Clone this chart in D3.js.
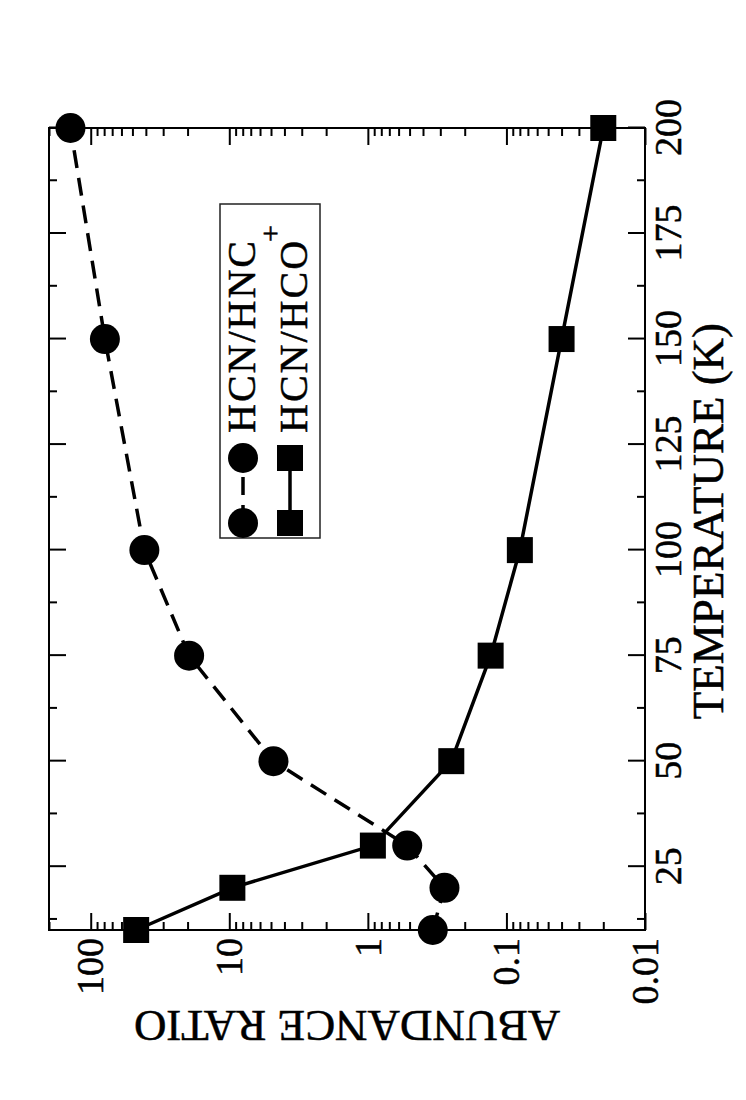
<!DOCTYPE html>
<html>
<head>
<meta charset="utf-8">
<script src="https://cdn.jsdelivr.net/npm/d3@7"></script>
<style>
  body { margin: 0; background: #fff; }
  text { font-family: "Liberation Serif", "Times New Roman", serif; fill: #000; stroke: #000; stroke-width: 0.5px; }
</style>
</head>
<body>
<div id="chart"></div>
<script>
// data
var temps = [10, 20, 30, 50, 75, 100, 150, 200];
var hcnHnc = [0.34, 0.28, 0.52, 4.8, 19.5, 41, 79, 140];
var hcnHco = [47, 9.5, 0.92, 0.25, 0.13, 0.08, 0.04, 0.02];
var tempTicks = [25, 50, 75, 100, 125, 150, 175, 200];
var tempMinor = [12.5, 37.5, 62.5, 87.5, 112.5, 137.5, 162.5, 187.5];
var ratioTicks = [100, 10, 1, 0.1, 0.01];
var ratioLabels = ["100", "10", "1", "0.1", "0.01"];
var seriesNames = ["HCN/HNC", "HCN/HCO"];

var svgW = 746, svgH = 1100;
// chart is drawn normally then turned a quarter turn counter-clockwise
var W = 802, H = 596;

var svg = d3.select("#chart").append("svg")
    .attr("width", svgW)
    .attr("height", svgH);

var g = svg.append("g")
    .attr("transform", "translate(49,930) rotate(-90)");

var x = d3.scaleLinear().domain([10, 200]).range([0, W]);
var y = d3.scaleLog().domain([0.01, 200]).range([H, 0]);

// minor log ticks 2..9 per decade
var logMinor = [];
[0.01, 0.1, 1, 10, 100].forEach(function(d) {
  for (var k = 2; k <= 9; k++) {
    var v = +(d * k).toPrecision(3);
    if (v <= 200) logMinor.push(v);
  }
});

function styleAxis(sel) {
  sel.select(".domain").remove();
  sel.selectAll("line").attr("stroke", "#000").attr("stroke-width", 2);
  sel.selectAll("text").style("font-family", "'Liberation Serif', 'Times New Roman', serif")
    .attr("font-size", 38).attr("fill", "#000");
}

// bottom (temperature) axis with labels
g.append("g").attr("transform", "translate(0," + H + ")")
  .call(d3.axisBottom(x).tickValues(tempTicks).tickSize(-17).tickPadding(9)
    .tickFormat(d3.format("d")))
  .call(styleAxis);
g.append("g").attr("transform", "translate(0," + H + ")")
  .call(d3.axisBottom(x).tickValues(tempMinor).tickSize(-8).tickFormat(""))
  .call(styleAxis);
// top
g.append("g")
  .call(d3.axisTop(x).tickValues(tempTicks).tickSize(-17).tickFormat(""))
  .call(styleAxis);
g.append("g")
  .call(d3.axisTop(x).tickValues(tempMinor).tickSize(-8).tickFormat(""))
  .call(styleAxis);

// left (ratio) axis with labels
g.append("g")
  .call(d3.axisLeft(y).tickValues(ratioTicks).tickSize(-17).tickPadding(8)
    .tickFormat(function(d, i) { return ratioLabels[i]; }))
  .call(styleAxis);
g.append("g")
  .call(d3.axisLeft(y).tickValues(logMinor).tickSize(-8).tickFormat(""))
  .call(styleAxis);
// right
g.append("g").attr("transform", "translate(" + W + ",0)")
  .call(d3.axisRight(y).tickValues(ratioTicks).tickSize(-17).tickFormat(""))
  .call(styleAxis);
g.append("g").attr("transform", "translate(" + W + ",0)")
  .call(d3.axisRight(y).tickValues(logMinor).tickSize(-8).tickFormat(""))
  .call(styleAxis);

// frame
g.append("rect")
  .attr("width", W).attr("height", H)
  .attr("fill", "none").attr("stroke", "#000").attr("stroke-width", 2);

// axis titles
g.append("text")
  .attr("x", W / 2 + 8).attr("y", H + 78)
  .attr("text-anchor", "middle")
  .attr("font-size", 45)
  .text("TEMPERATURE (K)");

g.append("text")
  .attr("transform", "translate(-81," + (H / 2) + ") rotate(-90)")
  .attr("text-anchor", "middle")
  .attr("font-size", 45)
  .text("ABUNDANCE RATIO");

// lines
var line = d3.line()
  .x(function(d) { return x(d[0]); })
  .y(function(d) { return y(d[1]); });

var hncPts = temps.map(function(t, i) { return [t, hcnHnc[i]]; });
var hcoPts = temps.map(function(t, i) { return [t, hcnHco[i]]; });

g.append("path").datum(hcoPts)
  .attr("d", line)
  .attr("fill", "none").attr("stroke", "#000").attr("stroke-width", 3.5);

g.append("path").datum(hncPts)
  .attr("d", line)
  .attr("fill", "none").attr("stroke", "#000").attr("stroke-width", 3.5)
  .attr("stroke-dasharray", "18,10");

// symbols
g.selectAll("circle.hnc").data(hncPts).enter().append("circle")
  .attr("class", "hnc")
  .attr("cx", function(d) { return x(d[0]); })
  .attr("cy", function(d) { return y(d[1]); })
  .attr("r", 15)
  .attr("fill", "#000");

g.selectAll("rect.hco").data(hcoPts).enter().append("rect")
  .attr("class", "hco")
  .attr("x", function(d) { return x(d[0]) - 13; })
  .attr("y", function(d) { return y(d[1]) - 13; })
  .attr("width", 26).attr("height", 26)
  .attr("fill", "#000");

// legend
var leg = g.append("g");
leg.append("rect")
  .attr("x", 392).attr("y", 171)
  .attr("width", 334).attr("height", 100)
  .attr("fill", "#fff").attr("stroke", "#222").attr("stroke-width", 1.5);

var r1 = 194, r2 = 241, s1 = 407, s2 = 472, tx = 497;

leg.append("line")
  .attr("x1", s1).attr("x2", s2).attr("y1", r1).attr("y2", r1)
  .attr("stroke", "#000").attr("stroke-width", 3.5)
  .attr("stroke-dasharray", "18,10");
[s1, s2].forEach(function(s) {
  leg.append("circle").attr("cx", s).attr("cy", r1).attr("r", 15).attr("fill", "#000");
});

leg.append("line")
  .attr("x1", s1).attr("x2", s2).attr("y1", r2).attr("y2", r2)
  .attr("stroke", "#000").attr("stroke-width", 3.5);
[s1, s2].forEach(function(s) {
  leg.append("rect").attr("x", s - 13).attr("y", r2 - 13)
    .attr("width", 26).attr("height", 26).attr("fill", "#000");
});

leg.append("text")
  .attr("x", tx).attr("y", r1 + 12)
  .attr("font-size", 40)
  .attr("letter-spacing", 2)
  .text(seriesNames[0]);

var t2 = leg.append("text")
  .attr("x", tx).attr("y", r2 + 17)
  .attr("font-size", 40)
  .attr("letter-spacing", 2);
t2.append("tspan").text(seriesNames[1]);
t2.append("tspan").attr("dx", -3).attr("dy", -27).attr("font-size", 30).text("+");
</script>
</body>
</html>
